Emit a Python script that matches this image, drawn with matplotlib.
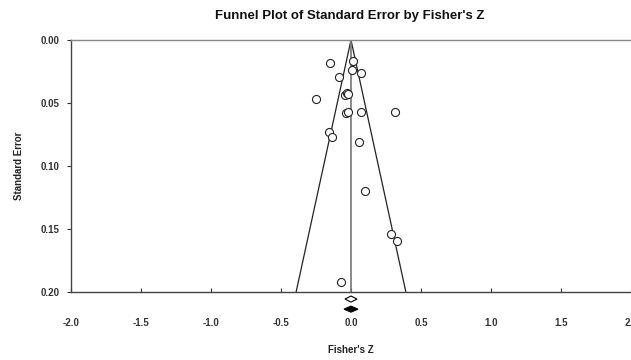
import matplotlib
matplotlib.use("Agg")
import matplotlib.pyplot as plt
import matplotlib.transforms as mtransforms
from matplotlib.patches import Polygon

plt.rcParams['font.family'] = ['Liberation Sans', 'DejaVu Sans']

# Study effects (Fisher's Z) and their standard errors
fisher_z = [-0.150, 0.016, 0.007, 0.069, -0.086, -0.252, -0.043, -0.031, -0.019, -0.038,
            -0.019, 0.074, 0.316, -0.159, -0.136, 0.059, 0.098, 0.284, 0.329, -0.071]
std_err = [0.0183, 0.0164, 0.0240, 0.0264, 0.0290, 0.0468, 0.0437, 0.0423, 0.0431, 0.0582,
           0.0574, 0.0569, 0.0571, 0.0728, 0.0767, 0.0812, 0.1196, 0.1537, 0.1595, 0.1920]

# Summary estimates: observed (open) and adjusted (filled)
summary_z = [0.0, 0.0]
summary_half_ci = [0.043, 0.050]
summary_filled = [False, True]

se_max = 0.20
x_ticks = [-2.0, -1.5, -1.0, -0.5, 0.0, 0.5, 1.0, 1.5, 2.0]
y_ticks = [0.00, 0.05, 0.10, 0.15, 0.20]

fig = plt.figure(figsize=(6.31, 3.6), dpi=100)
ax = fig.add_axes([0.1125, 0.1889, 0.8875, 0.70])

# funnel lines and centre line
mean_z = summary_z[0]
ax.plot([mean_z - 1.96 * se_max, mean_z, mean_z + 1.96 * se_max], [se_max, 0, se_max],
        color='#222222', lw=0.9, zorder=2)
ax.plot([mean_z, mean_z], [0, se_max], color='#777777', lw=1.2, zorder=2)

ax.plot(fisher_z, std_err, linestyle='none', marker='o', markersize=5.8,
        markerfacecolor='white', markeredgecolor='#222222', markeredgewidth=0.8, zorder=3)

# summary diamonds below the axis
trans = mtransforms.blended_transform_factory(ax.transData, ax.transAxes)
for i, (z, hw, filled) in enumerate(zip(summary_z, summary_half_ci, summary_filled)):
    yc = -0.028 - 0.040 * i
    dh = 0.012
    poly = Polygon([(z - hw, yc), (z, yc + dh), (z + hw, yc), (z, yc - dh)], closed=True,
                   transform=trans, clip_on=False,
                   facecolor='black' if filled else 'white', edgecolor='black', lw=0.8)
    ax.add_patch(poly)

ax.set_xlim(-2.0, 2.0)
ax.set_ylim(se_max, 0)
ax.set_xticks(x_ticks)
ax.set_xticklabels([f"{t:.1f}" for t in x_ticks])
ax.set_yticks(y_ticks)
ax.set_yticklabels([f"{t:.2f}" for t in y_ticks])

for s in ['left', 'bottom']:
    ax.spines[s].set_color('#444444')
    ax.spines[s].set_linewidth(1.0)
ax.spines['top'].set_color('#888888')
ax.spines['top'].set_linewidth(1.0)
ax.spines['right'].set_visible(False)

ax.tick_params(axis='x', direction='in', length=3, width=0.8, pad=19, labelsize=7, colors='#333333')
ax.tick_params(axis='y', direction='out', length=3, width=0.8, pad=5, labelsize=7, colors='#333333')
for lab in ax.get_xticklabels() + ax.get_yticklabels():
    lab.set_fontweight('bold')

ax.set_xlabel("Fisher's Z", fontsize=7, fontweight='bold', labelpad=12, color='#222222')
ax.set_ylabel("Standard Error", fontsize=7, fontweight='bold', labelpad=12, color='#222222')
fig.text(0.555, 0.955, "Funnel Plot of Standard Error by Fisher's Z", ha='center', va='center',
         fontsize=9.5, fontweight='bold', color='#111111')

fig.savefig("out.png", dpi=100)
